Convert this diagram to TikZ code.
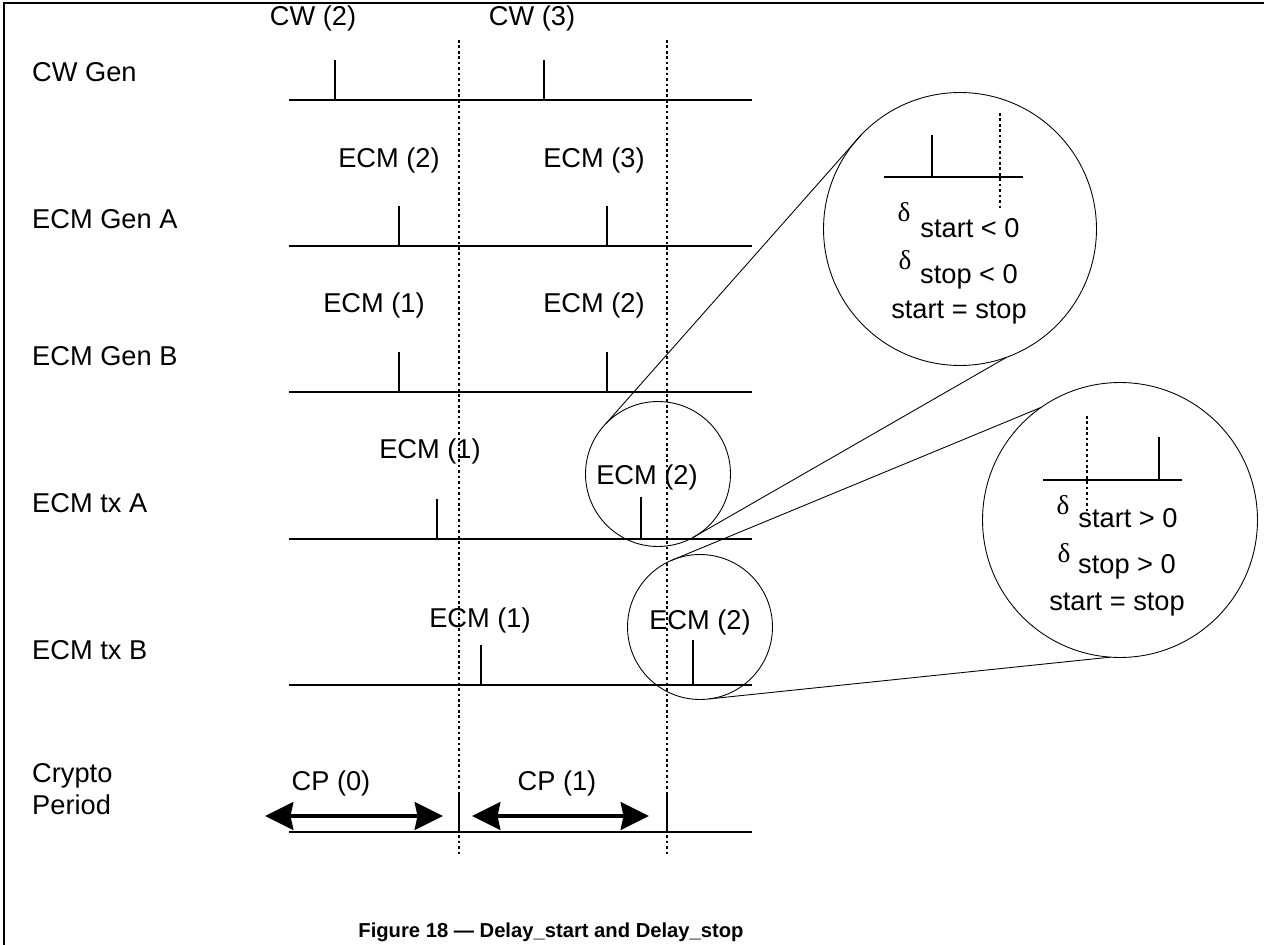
\documentclass[tikz,border=0pt]{standalone}
\usepackage{fontspec}
\setmainfont{Liberation Sans}
\newfontfamily\greekfont{Liberation Serif}
\usetikzlibrary{arrows.meta, positioning}

\begin{document}
\begin{tikzpicture}[x=0.02cm, y=-0.02cm,
  font=\fontsize{15.5}{18}\selectfont,
  timeline/.style={line width=1.2pt},
  tick/.style={line width=1.2pt},
  guide/.style={line width=0.8pt, dash pattern=on 1.5pt off 1.6pt},
  lens/.style={circle, draw, line width=0.5pt, inner sep=0pt, outer sep=0pt},
  spanarrow/.style={line width=2.8pt,
    {Stealth[length=16pt,width=15.5pt,inset=1.5pt]}-{Stealth[length=16pt,width=15.5pt,inset=1.5pt]}}]
\useasboundingbox (0,0) rectangle (1264,945);

% Frame
\draw[line width=1.6pt] (4,945) -- (4,3) -- (1264,3);

% Crypto period boundaries
\draw[guide] (459,40) -- (459,855);
\draw[guide] (667,40) -- (667,855);

% Row labels
\node[anchor=west] (cwgen) at (26,72) {CW Gen};
\node[anchor=west] (gena) at (26,219) {ECM Gen A};
\node[anchor=west] (genb) at (26,356) {ECM Gen B};
\node[anchor=west] (txa) at (26,503) {ECM tx A};
\node[anchor=west] (txb) at (26,650) {ECM tx B};
\node[anchor=west, align=left] (crypto) at (26,789) {Crypto\\Period};

% CW Gen
\draw[timeline] (289,100) -- (752,100);
\draw[tick] (335,60) -- (335,100);
\draw[tick] (544,60) -- (544,100);
\node (cw2) at (313,18) {CW (2)};
\node (cw3) at (532,18) {CW (3)};

% ECM Gen A
\draw[timeline] (289,246) -- (752,246);
\draw[tick] (399,206) -- (399,246);
\draw[tick] (607,206) -- (607,246);
\node (gena2) at (389,160) {ECM (2)};
\node (gena3) at (594,160) {ECM (3)};

% ECM Gen B
\draw[timeline] (289,392) -- (752,392);
\draw[tick] (399,352) -- (399,392);
\draw[tick] (607,352) -- (607,392);
\node (genb1) at (374,305) {ECM (1)};
\node (genb2) at (594,305) {ECM (2)};

% ECM tx A
\draw[timeline] (289,539) -- (752,539);
\draw[tick] (437,499) -- (437,539);
\draw[tick] (641,497) -- (641,539);
\node (txa1) at (430,451) {ECM (1)};
\node (txa2) at (647,477) {ECM (2)};

% ECM tx B
\draw[timeline] (289,685) -- (752,685);
\draw[tick] (481,645) -- (481,685);
\draw[tick] (693,640) -- (693,685);
\node (txb1) at (480,620) {ECM (1)};
\node (txb2) at (700,622) {ECM (2)};

% Crypto Period
\draw[timeline] (289,832) -- (752,832);
\draw[tick] (459,792) -- (459,832);
\draw[tick] (667,792) -- (667,832);
\node (cp0) at (331,783) {CP (0)};
\node (cp1) at (557,783) {CP (1)};
\coordinate (cp0l) at (265,816);
\coordinate (cp0r) at (443,816);
\coordinate (cp1l) at (472,816);
\coordinate (cp1r) at (649,816);
\draw[spanarrow] (cp0l) -- (cp0r);
\draw[spanarrow] (cp1l) -- (cp1r);

% Small circles
\node[lens, minimum size=2.9cm] (zoomA) at (658,474) {};
\node[lens, minimum size=2.9cm] (zoomB) at (700,627) {};

% Magnified circle: delta < 0
\node[lens, minimum size=5.46cm] (bigA) at (960,229) {};
\draw[timeline] (884,177) -- (1023,177);
\draw[tick] (932,135) -- (932,177);
\draw[guide] (1000,113) -- (1000,209);
\node (dsa) at (904,212) {\greekfont δ};
\node (ssa) at (970,228) {start < 0};
\node (dpa) at (905,260) {\greekfont δ};
\node (spa) at (969,277) {stop < 0};
\node (eqa) at (959,313) {start = stop};

% Magnified circle: delta > 0
\node[lens, minimum size=5.5cm] (bigB) at (1120,520) {};
\draw[timeline] (1043,480) -- (1182,480);
\draw[tick] (1159,437) -- (1159,480);
\draw[guide] (1087,416) -- (1087,512);
\node (dsb) at (1063,505) {\greekfont δ};
\node (ssb) at (1128,518) {start > 0};
\node (dpb) at (1064,553) {\greekfont δ};
\node (spb) at (1127,567) {stop > 0};
\node (eqb) at (1117,605) {start = stop};

% Zoom lines
\draw[line width=0.5pt] (zoomA.136) -- (bigA.136);
\draw[line width=0.5pt] (zoomA.-61) -- (bigA.-70);
\draw[line width=0.5pt] (zoomB.114) -- (bigB.125);
\draw[line width=0.5pt] (zoomB.-83) -- (bigB.-94);

% Caption
\node[font=\fontsize{11.5}{14}\selectfont\bfseries] (caption) at (551,932)
  {Figure 18 — Delay\_start and Delay\_stop};
\end{tikzpicture}
\end{document}
